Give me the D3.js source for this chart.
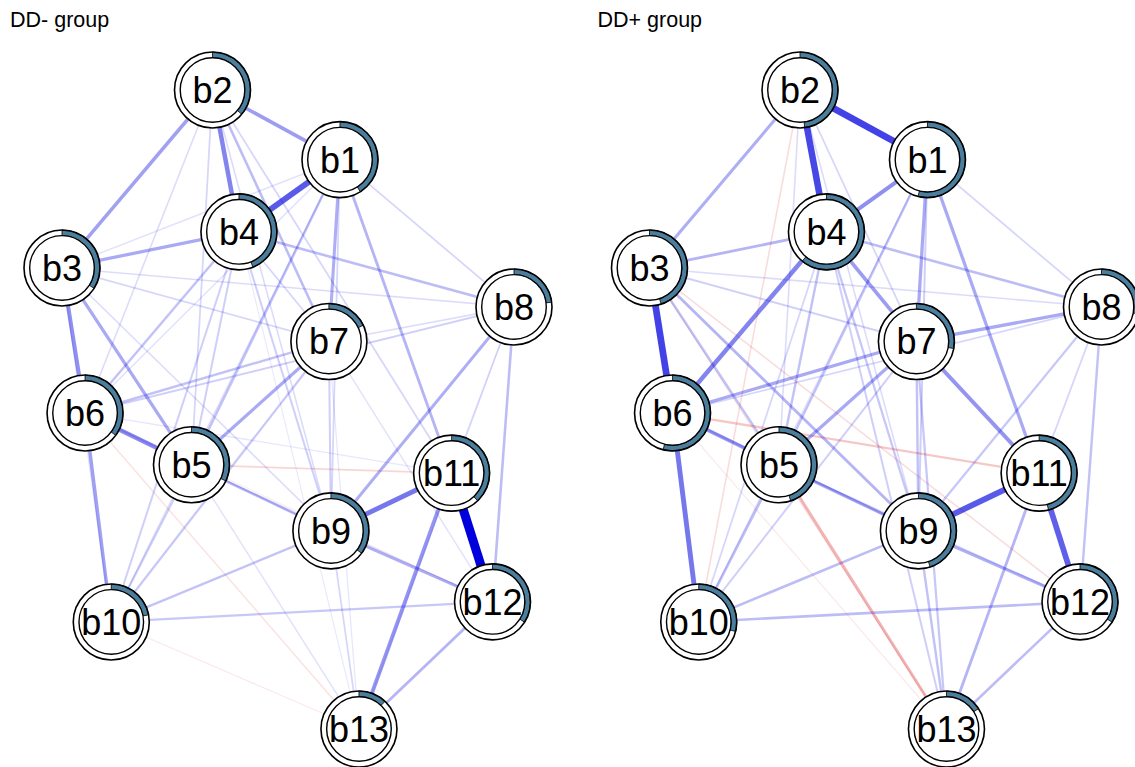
<!DOCTYPE html>
<html>
<head>
<meta charset="utf-8">
<script src="https://cdn.jsdelivr.net/npm/d3@7"></script>
<style>
  body { margin: 0; background: #fff; }
  text { font-family: "Liberation Sans", Arial, Helvetica, sans-serif; }
</style>
</head>
<body>
<div id="chart"></div>
<script>
// shared layout (qgraph-style, -1..1)
const nodeNames = ["b1", "b2", "b3", "b4", "b5", "b6", "b7", "b8", "b9", "b10", "b11", "b12", "b13"];
const layoutX = [0.230, -0.334, -1.0, -0.217, -0.427, -0.898, 0.181, 1.0, 0.190, -0.782, 0.724, 0.905, 0.314];
const layoutY = [0.782, 1.0, 0.443, 0.556, -0.173, -0.011, 0.213, 0.321, -0.380, -0.665, -0.199, -0.602, -1.0];

const titles = ["DD- group", "DD+ group"];

// predictability pies
const pieMinus = [0.41, 0.36, 0.34, 0.44, 0.32, 0.35, 0.18, 0.23, 0.35, 0.22, 0.38, 0.34, 0.12];
const piePlus = [0.54, 0.48, 0.45, 0.61, 0.45, 0.54, 0.28, 0.28, 0.45, 0.29, 0.46, 0.34, 0.16];

// edges: from, to, weight (relative to common maximum)
const edgesMinus = [
  ["b11", "b12", 1.0], ["b1", "b4", 0.62], ["b9", "b11", 0.5], ["b2", "b4", 0.45],
  ["b5", "b6", 0.42], ["b3", "b6", 0.4], ["b11", "b13", 0.38], ["b2", "b1", 0.35],
  ["b2", "b3", 0.33], ["b6", "b10", 0.33], ["b3", "b4", 0.3], ["b3", "b5", 0.3],
  ["b5", "b7", 0.3], ["b8", "b9", 0.28], ["b9", "b12", 0.28], ["b1", "b7", 0.28],
  ["b1", "b11", 0.25], ["b12", "b13", 0.25], ["b8", "b12", 0.22], ["b2", "b7", 0.22],
  ["b4", "b8", 0.22], ["b1", "b5", 0.2], ["b4", "b6", 0.2], ["b6", "b7", 0.2],
  ["b5", "b9", 0.22], ["b10", "b9", 0.2], ["b10", "b7", 0.18], ["b10", "b12", 0.18],
  ["b6", "b8", 0.15], ["b10", "b4", 0.15], ["b7", "b9", 0.15], ["b2", "b11", 0.12],
  ["b4", "b5", 0.15], ["b4", "b9", 0.15], ["b4", "b7", 0.12], ["b2", "b9", 0.1],
  ["b2", "b5", 0.12], ["b2", "b6", 0.1], ["b3", "b7", 0.12], ["b3", "b8", 0.1],
  ["b3", "b10", 0.08], ["b3", "b9", 0.1], ["b1", "b8", 0.12], ["b1", "b3", 0.08],
  ["b1", "b6", 0.08], ["b1", "b9", 0.12], ["b1", "b10", 0.1], ["b5", "b10", 0.15],
  ["b5", "b12", 0.06], ["b5", "b13", 0.08], ["b7", "b8", 0.1], ["b7", "b12", 0.08],
  ["b7", "b13", 0.06], ["b8", "b11", 0.1], ["b8", "b13", 0.05], ["b9", "b13", 0.12],
  ["b6", "b9", 0.1], ["b6", "b11", 0.06], ["b4", "b13", 0.05],
  ["b10", "b13", -0.05], ["b6", "b13", -0.08], ["b5", "b11", -0.12], ["b6", "b12", -0.04]
];

const edgesPlus = [
  ["b2", "b1", 0.72], ["b3", "b6", 0.72], ["b2", "b4", 0.7], ["b9", "b11", 0.62],
  ["b11", "b12", 0.6], ["b6", "b10", 0.5], ["b4", "b6", 0.45], ["b1", "b4", 0.4],
  ["b7", "b11", 0.38], ["b5", "b6", 0.35], ["b4", "b7", 0.35], ["b1", "b7", 0.3],
  ["b1", "b11", 0.3], ["b6", "b7", 0.3], ["b7", "b8", 0.3], ["b5", "b7", 0.3],
  ["b5", "b9", 0.28], ["b9", "b12", 0.28], ["b2", "b3", 0.28], ["b3", "b4", 0.25],
  ["b3", "b9", 0.25], ["b11", "b13", 0.25], ["b4", "b8", 0.22], ["b10", "b12", 0.22],
  ["b10", "b9", 0.22], ["b10", "b5", 0.22], ["b12", "b13", 0.22], ["b8", "b12", 0.2],
  ["b8", "b9", 0.18], ["b9", "b13", 0.2], ["b7", "b13", 0.18], ["b4", "b13", 0.15],
  ["b4", "b9", 0.18], ["b4", "b5", 0.2], ["b1", "b5", 0.2], ["b1", "b9", 0.15],
  ["b1", "b8", 0.12], ["b3", "b8", 0.1], ["b3", "b7", 0.15], ["b3", "b5", 0.2],
  ["b6", "b8", 0.12], ["b6", "b9", 0.15], ["b7", "b9", 0.2], ["b10", "b7", 0.15],
  ["b10", "b4", 0.12], ["b10", "b1", 0.08], ["b2", "b7", 0.12], ["b2", "b9", 0.1],
  ["b2", "b5", 0.1], ["b8", "b11", 0.12], ["b5", "b12", 0.1],
  ["b5", "b13", -0.26], ["b6", "b11", -0.18], ["b2", "b10", -0.1], ["b3", "b12", -0.1],
  ["b3", "b13", -0.07], ["b6", "b13", -0.05]
];

const width = 1135, height = 767;
const panelOffsets = [0, 587.5];
const outerR = 38, innerR = 32.3;

const svg = d3.select("#chart").append("svg")
  .attr("width", width).attr("height", height);

const x = d3.scaleLinear().domain([-1, 1]).range([62, 514]);
const y = d3.scaleLinear().domain([-1, 1]).range([729, 90]);
const edgeWidth = d3.scaleLinear().domain([0, 1]).range([0.8, 9]);
const edgeAlpha = d3.scalePow().exponent(0.95).domain([0, 1]).range([0.03, 1]);
const arc = d3.arc().innerRadius(innerR).outerRadius(outerR).startAngle(0);

function drawPanel(i, pies, edges) {
  let g = svg.append("g").attr("transform", "translate(" + panelOffsets[i] + ",0)");
  let idx = name => nodeNames.indexOf(name);

  g.append("text").attr("x", 10).attr("y", 27)
    .style("font-size", "21.5px").text(titles[i]);

  let sorted = edges.slice().sort((a, b) => Math.abs(a[2]) - Math.abs(b[2]));
  g.selectAll("line.edge").data(sorted).join("line").attr("class", "edge")
    .attr("x1", d => x(layoutX[idx(d[0])])).attr("y1", d => y(layoutY[idx(d[0])]))
    .attr("x2", d => x(layoutX[idx(d[1])])).attr("y2", d => y(layoutY[idx(d[1])]))
    .attr("stroke", d => d[2] > 0 ? "#0000DD" : "#D50000")
    .attr("stroke-opacity", d => edgeAlpha(Math.abs(d[2])))
    .attr("stroke-width", d => edgeWidth(Math.abs(d[2])))
    .attr("stroke-linecap", "butt");

  let nodes = g.selectAll("g.node").data(nodeNames).join("g").attr("class", "node")
    .attr("transform", (d, k) => "translate(" + x(layoutX[k]) + "," + y(layoutY[k]) + ")");

  nodes.append("circle").attr("r", outerR).attr("fill", "#fff");
  nodes.append("path").attr("d", (d, k) => arc({endAngle: pies[k] * 2 * Math.PI}))
    .attr("fill", "#4A7E9C").attr("stroke", "#000").attr("stroke-width", 0.8);
  nodes.append("circle").attr("r", innerR).attr("fill", "#fff")
    .attr("stroke", "#000").attr("stroke-width", 1.4);
  nodes.append("circle").attr("r", outerR).attr("fill", "none")
    .attr("stroke", "#000").attr("stroke-width", 1.6);
  nodes.append("text").attr("text-anchor", "middle").attr("y", 13)
    .style("font-size", "36px").text(d => d);
}

drawPanel(0, pieMinus, edgesMinus);
drawPanel(1, piePlus, edgesPlus);
</script>
</body>
</html>
